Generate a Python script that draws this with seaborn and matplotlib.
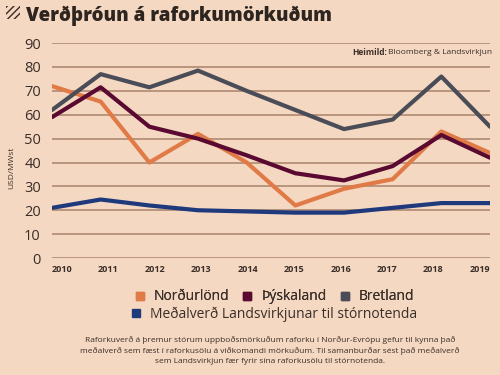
import seaborn as sns
import matplotlib.pyplot as plt
import pandas as pd
from matplotlib.lines import Line2D
from matplotlib.patches import Rectangle

years = [2010, 2011, 2012, 2013, 2014, 2015, 2016, 2017, 2018, 2019]
nordurlond = [72, 65.5, 40, 52, 40, 22, 29, 33, 53, 44]
thyskaland = [59, 71.5, 55, 50, 43, 35.5, 32.5, 38.5, 51.5, 42]
bretland = [62, 77, 71.5, 78.5, 70, 62, 54, 58, 76, 55]
landsvirkjun = [21, 24.5, 22, 20, 19.5, 19, 19, 21, 23, 23]

series_names = ["Norðurlönd", "Þýskaland", "Bretland", "Meðalverð Landsvirkjunar til stórnotenda"]
colors = ["#E07A47", "#5A0A30", "#4A4D57", "#1F3A7C"]

bg = "#F5D8C2"
grid_col = "#B8957C"
txt = "#3A2E28"

df = pd.DataFrame({
    "Ár": years * 4,
    "Verð": nordurlond + thyskaland + bretland + landsvirkjun,
    "Röð": [n for n in series_names for _ in years],
})
df["x"] = df["Ár"] - years[0]

sns.set_style("white")
plt.rcParams["font.family"] = ["Open Sans", "DejaVu Sans"]

fig = plt.figure(figsize=(5, 3.75), dpi=100, facecolor=bg)
ax = fig.add_axes([0.104, 0.312, 0.876, 0.573])
ax.set_facecolor(bg)

sns.lineplot(data=df, x="x", y="Verð", hue="Röð", palette=colors,
             hue_order=series_names, linewidth=3, ax=ax, legend=False)

ax.set_xlim(0, len(years) - 1)
ax.set_ylim(0, 90)
ax.set_yticks(range(0, 91, 10))
ax.yaxis.grid(True, color=grid_col, linewidth=1.4)
ax.set_axisbelow(True)
for s in ax.spines.values():
    s.set_visible(False)
ax.set_xticks([])
ax.tick_params(axis="y", labelsize=10.5, labelcolor=txt, length=0, pad=8)
ax.set_xlabel("")
ax.set_ylabel("USD/MWst", fontsize=6, color=txt)
ax.yaxis.set_label_coords(-0.085, 0.42)

# year labels sit a little inside the line ends, like the original
sec = ax.secondary_xaxis("bottom", functions=(lambda v: (v - 0.205) / 0.954,
                                               lambda v: v * 0.954 + 0.205))
sec.set_xticks(range(len(years)))
sec.set_xticklabels([str(y) for y in years], fontsize=6.5, fontweight="bold", color=txt)
sec.tick_params(length=0, pad=5)
sec.spines["bottom"].set_visible(False)

fig.text(0.774, 0.86, "Heimild:", ha="right", va="center", fontsize=6,
         fontweight="bold", color=txt)
fig.text(0.775, 0.86, "Bloomberg & Landsvirkjun", ha="left", va="center",
         fontsize=6, color=txt)

# title with hatched icon
fig.patches.append(Rectangle((0.012, 0.95), 0.028, 0.035, transform=fig.transFigure,
                             facecolor=bg, edgecolor="#3A2A22", hatch="/////",
                             linewidth=0))
fig.text(0.052, 0.957, "Verðþróun á raforkumörkuðum", fontsize=13.5, fontweight="heavy",
         color="#2E2520", va="center", ha="left")

handles = [Line2D([], [], marker="s", linestyle="", markersize=6, color=c) for c in colors]
leg1 = fig.legend(handles[:3], series_names[:3], loc="center", bbox_to_anchor=(0.54, 0.208),
                  ncol=3, frameon=False, fontsize=10, handletextpad=0.0,
                  columnspacing=0.3, labelcolor=txt, borderpad=0)
fig.add_artist(leg1)
fig.legend(handles[3:], series_names[3:], loc="center", bbox_to_anchor=(0.54, 0.163),
           frameon=False, fontsize=10, handletextpad=0.0, labelcolor=txt, borderpad=0)

caption = ("Raforkuverð á þremur stórum uppboðsmörkuðum raforku í Norður-Evrópu gefur til kynna það\n"
           "meðalverð sem fæst í raforkusölu á viðkomandi mörkuðum. Til samanburðar sést það meðalverð\n"
           "sem Landsvirkjun fær fyrir sína raforkusölu til stórnotenda.")
fig.text(0.54, 0.065, caption, ha="center", va="center", fontsize=6, color=txt,
         linespacing=1.5)

fig.savefig("out.png", dpi=100, facecolor=bg)
